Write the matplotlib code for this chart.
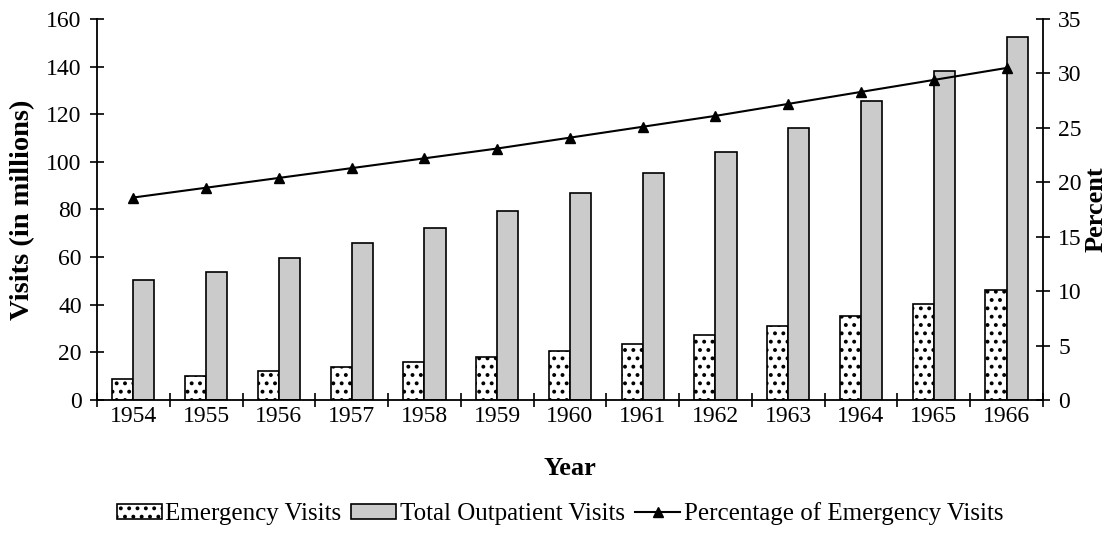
import numpy as np
import matplotlib
matplotlib.use("Agg")
import matplotlib.pyplot as plt

plt.rcParams['font.family'] = ['Liberation Serif', 'DejaVu Serif']
plt.rcParams['hatch.linewidth'] = 1.6

years = ['1954', '1955', '1956', '1957', '1958', '1959', '1960',
         '1961', '1962', '1963', '1964', '1965', '1966']
emergency = [9.0, 10.2, 12.1, 13.8, 15.8, 18.2, 20.6, 23.7, 27.1, 31.0, 35.4, 40.5, 46.3]
total = [50.2, 53.6, 59.6, 65.8, 72.1, 79.3, 86.9, 95.3, 104.2, 114.3, 125.5, 138.0, 152.4]
percent = [18.6, 19.5, 20.4, 21.3, 22.2, 23.1, 24.1, 25.1, 26.1, 27.2, 28.3, 29.4, 30.5]

fig = plt.figure(figsize=(11.2, 5.33), dpi=100)
ax = fig.add_axes([0.0866, 0.2495, 0.8446, 0.7149])
ax2 = ax.twinx()

x = np.arange(len(years))
w = 0.29
ax.bar(x - w / 2, emergency, w, facecolor='white', edgecolor='black',
       linewidth=1.2, hatch='..', label='Emergency Visits', zorder=2)
ax.bar(x + w / 2, total, w, facecolor='#cbcbcb', edgecolor='black',
       linewidth=1.2, label='Total Outpatient Visits', zorder=2)
ax2.plot(x, percent, color='black', linewidth=1.5, marker='^', markersize=7,
         label='Percentage of Emergency Visits')

ax.set_xlim(-0.5, len(years) - 0.5)
ax.set_ylim(0, 160)
ax.set_yticks(np.arange(0, 161, 20))
ax2.set_ylim(0, 35)
ax2.set_yticks(np.arange(0, 36, 5))

# year labels centred in groups, ticks on group boundaries
ax.set_xticks(np.arange(-0.5, len(years), 1.0))
ax.set_xticklabels([])
ax.set_xticks(x, minor=True)
ax.set_xticklabels(years, minor=True)
ax.tick_params(axis='x', which='minor', length=0, labelsize=17, pad=4)
ax.tick_params(axis='x', which='major', direction='inout', length=10, width=1.2)
ax.tick_params(axis='y', direction='inout', length=10, width=1.2, labelsize=17, pad=6)
ax2.tick_params(axis='y', direction='inout', length=10, width=1.2, labelsize=17, pad=6)

for a in (ax, ax2):
    a.spines['top'].set_visible(False)
    for s in ('left', 'right', 'bottom'):
        a.spines[s].set_linewidth(1.3)
ax.spines['right'].set_visible(False)
ax2.spines['left'].set_visible(False)
ax2.spines['bottom'].set_visible(False)

ax.set_xlabel('Year', fontsize=19, fontweight='bold', labelpad=22)
ax.set_ylabel('Visits (in millions)', fontsize=20.5, fontweight='bold', labelpad=8)
ax2.set_ylabel('Percent', fontsize=19, fontweight='bold', labelpad=2)

h1, l1 = ax.get_legend_handles_labels()
h2, l2 = ax2.get_legend_handles_labels()
fig.legend(h1 + h2, l1 + l2, loc='center', bbox_to_anchor=(0.5, 0.036), ncol=3,
           frameon=False, fontsize=18, handlelength=1.8, handletextpad=0.15,
           columnspacing=0.4, handleheight=0.6)

fig.savefig('out.png', dpi=100)
